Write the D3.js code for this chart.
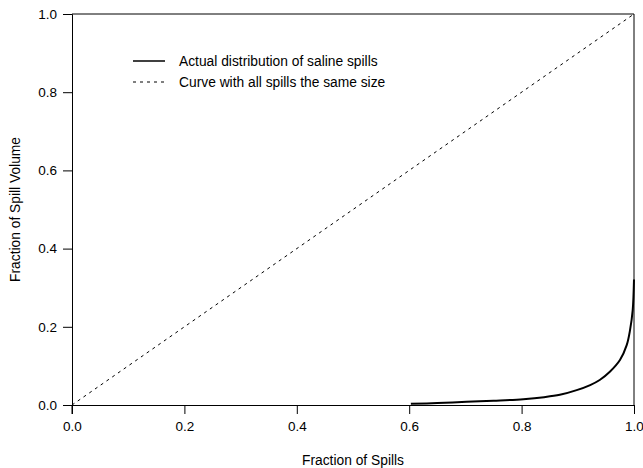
<!DOCTYPE html>
<html>
<head>
<meta charset="utf-8">
<script src="https://cdn.jsdelivr.net/npm/d3@7"></script>
<style>
  body { margin: 0; background: #fff; }
  text { font-family: "Liberation Sans", Arial, sans-serif; fill: #000; }
</style>
</head>
<body>
<div id="chart"></div>
<script>
// values
var spillFraction = [0.603, 0.65, 0.702, 0.75, 0.803, 0.84, 0.868, 0.898, 0.922, 0.939, 0.957, 0.975, 0.987, 0.993, 0.9977, 1.0]
var volumeFraction = [0.003, 0.005, 0.008, 0.011, 0.015, 0.02, 0.026, 0.038, 0.051, 0.064, 0.085, 0.115, 0.153, 0.192, 0.243, 0.321]
var equalLine = [0, 1]
var tickValues = [0, 0.2, 0.4, 0.6, 0.8, 1.0]
var legendLabels = ["Actual distribution of saline spills", "Curve with all spills the same size"]

var width = 643
var height = 468

var x = d3.scaleLinear().domain([0, 1]).range([72, 634])
var y = d3.scaleLinear().domain([0, 1]).range([405, 14])

var svg = d3.select("#chart").append("svg")
  .attr("width", width)
  .attr("height", height)

// frame top and right
svg.append("line")
  .attr("x1", x(0)).attr("x2", x(1))
  .attr("y1", y(1)).attr("y2", y(1))
  .attr("stroke", "#000").attr("stroke-width", 1)
svg.append("line")
  .attr("x1", x(1)).attr("x2", x(1))
  .attr("y1", y(1)).attr("y2", y(0))
  .attr("stroke", "#000").attr("stroke-width", 1)

svg.append("g")
  .attr("transform", "translate(0," + y(0) + ")")
  .call(d3.axisBottom(x).tickValues(tickValues).tickFormat(d3.format(".1f")).tickSize(9).tickPadding(7))
svg.append("g")
  .attr("transform", "translate(" + x(0) + ",0)")
  .call(d3.axisLeft(y).tickValues(tickValues).tickFormat(d3.format(".1f")).tickSize(9).tickPadding(6))

svg.selectAll(".domain").attr("stroke", "#000").attr("stroke-width", 1)
svg.selectAll(".tick line").attr("stroke", "#000")
svg.selectAll(".tick text")
  .style("font-family", "Liberation Sans, Arial, sans-serif")
  .style("font-size", "13.5px")
  .attr("fill", "#000")

// left axis line runs a little below the bottom axis
svg.append("line")
  .attr("x1", x(0)).attr("x2", x(0))
  .attr("y1", y(0)).attr("y2", y(0) + 9)
  .attr("stroke", "#000")

// diagonal: all spills same size
svg.append("line")
  .attr("x1", x(equalLine[0])).attr("y1", y(equalLine[0]))
  .attr("x2", x(equalLine[1])).attr("y2", y(equalLine[1]))
  .attr("stroke", "#000")
  .attr("stroke-width", 1)
  .attr("stroke-dasharray", "3,4")

var curve = spillFraction.map(function(d, i) { return [d, volumeFraction[i]] })
svg.append("path")
  .datum(curve)
  .attr("fill", "none")
  .attr("stroke", "#000")
  .attr("stroke-width", 2)
  .attr("d", d3.line()
    .x(function(d) { return x(d[0]) })
    .y(function(d) { return y(d[1]) })
    .curve(d3.curveCatmullRom))

// legend
var legend = svg.append("g")
legend.append("line")
  .attr("x1", 133).attr("x2", 165).attr("y1", 61).attr("y2", 61)
  .attr("stroke", "#000").attr("stroke-width", 1.5)
legend.append("line")
  .attr("x1", 133).attr("x2", 165).attr("y1", 82).attr("y2", 82)
  .attr("stroke", "#000").attr("stroke-width", 1)
  .attr("stroke-dasharray", "3,4")
legend.selectAll("text")
  .data(legendLabels)
  .enter().append("text")
  .attr("x", 179)
  .attr("y", function(d, i) { return 66 + i * 21 })
  .style("font-size", "13.8px")
  .text(function(d) { return d })

// axis titles
svg.append("text")
  .attr("x", (x(0) + x(1)) / 2)
  .attr("y", 465)
  .attr("text-anchor", "middle")
  .style("font-size", "13.8px")
  .text("Fraction of Spills")
svg.append("text")
  .attr("transform", "translate(20," + ((y(0) + y(1)) / 2) + ") rotate(-90)")
  .attr("text-anchor", "middle")
  .style("font-size", "13.8px")
  .text("Fraction of Spill Volume")
</script>
</body>
</html>
